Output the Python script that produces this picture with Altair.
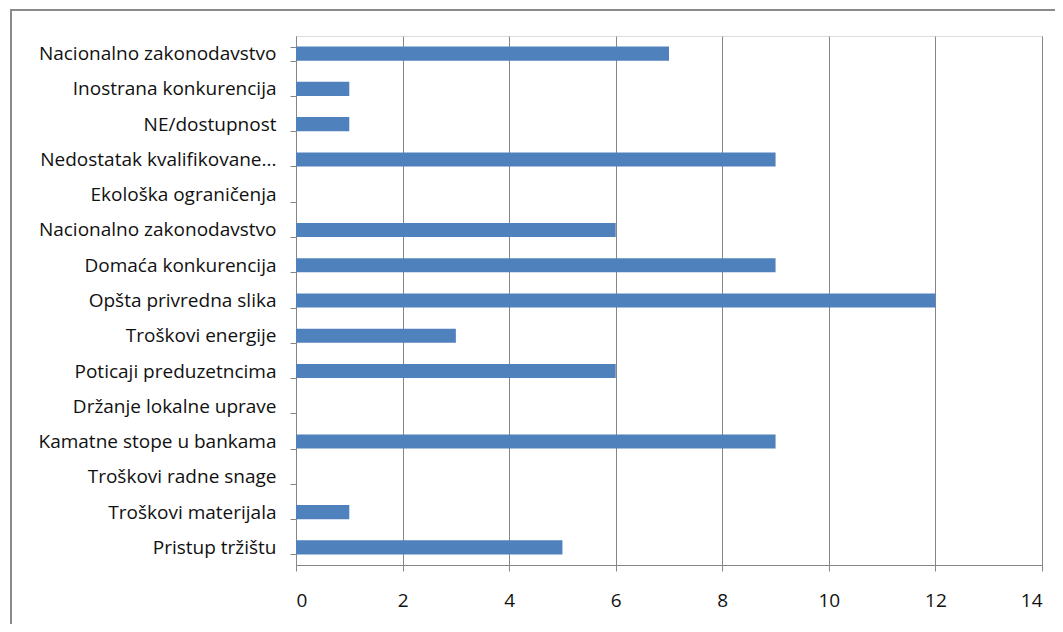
import json
import altair as alt
import pandas as pd

categories = [
    "Nacionalno zakonodavstvo",
    "Inostrana konkurencija",
    "NE/dostupnost",
    "Nedostatak kvalifikovane...",
    "Ekološka ograničenja",
    "Nacionalno zakonodavstvo",
    "Domaća konkurencija",
    "Opšta privredna slika",
    "Troškovi energije",
    "Poticaji preduzetncima",
    "Držanje lokalne uprave",
    "Kamatne stope u bankama",
    "Troškovi radne snage",
    "Troškovi materijala",
    "Pristup tržištu",
]
values = [7, 1, 1, 9, 0, 6, 9, 12, 3, 6, 0, 9, 0, 1, 5]
x_ticks = [0, 2, 4, 6, 8, 10, 12, 14]

keys = [f"c{i:02d}" for i in range(len(categories))]
df = pd.DataFrame({"key": keys, "label": categories, "value": values})
label_map = json.dumps(dict(zip(keys, categories)), ensure_ascii=False)

FONT = "Open Sans"
GRAY = "#868686"

bars = alt.Chart(df).mark_bar(color="#4F81BD").encode(
    x=alt.X(
        "value:Q",
        scale=alt.Scale(domain=[0, 14], nice=False),
        axis=alt.Axis(
            values=x_ticks,
            title=None,
            grid=True,
            gridColor=GRAY,
            gridWidth=1,
            domainColor=GRAY,
            tickColor=GRAY,
            tickSize=6,
            labelPadding=20,
            labelFont=FONT,
            labelFontSize=19,
            labelColor="#111111",
        ),
    ),
    y=alt.Y(
        "key:N",
        sort=keys,
        scale=alt.Scale(paddingInner=0.6, paddingOuter=0.3),
        axis=alt.Axis(
            title=None,
            labelExpr=f"{label_map}[datum.value]",
            tickBand="extent",
            domainColor=GRAY,
            tickColor=GRAY,
            tickSize=6,
            labelPadding=14,
            labelFont=FONT,
            labelFontSize=19,
            labelColor="#111111",
            labelLimit=400,
        ),
    ),
)

frame = alt.Chart(alt.Data(values=[{}])).mark_rect(
    fill=None, fillOpacity=0, stroke="#8A8A8A", strokeWidth=2
).encode(
    x=alt.value(-285), x2=alt.value(900), y=alt.value(-26), y2=alt.value(800)
)

chart = alt.layer(bars, frame).properties(
    width=746,
    height=529,
    padding={"left": 288, "top": 28, "right": 13, "bottom": 59},
    autosize=alt.AutoSizeParams(type="none"),
).configure_view(stroke=None).configure(background="white")

chart.save("out.html", embed_options={"renderer": "svg", "actions": False})
